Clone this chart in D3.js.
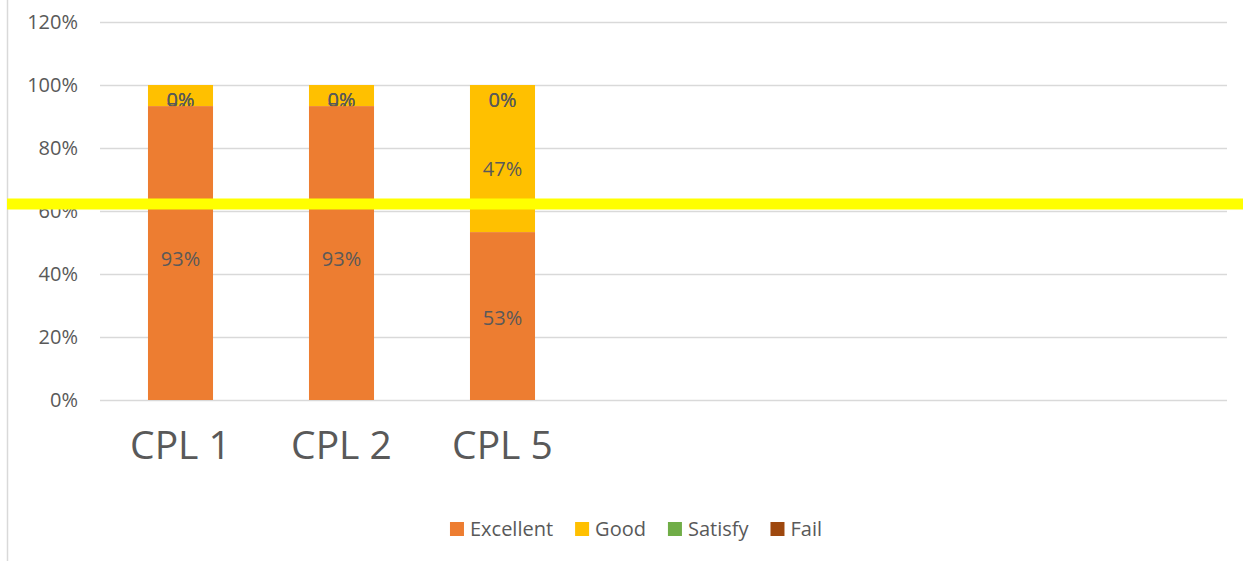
<!DOCTYPE html>
<html>
<head>
<meta charset="utf-8">
<script src="https://cdn.jsdelivr.net/npm/d3@7"></script>
<style>
  body { margin: 0; background: #fff; }
  text { font-family: 'Open Sans', sans-serif; fill: #595959; }
</style>
</head>
<body>
<div id="canvas"></div>
<script>
// chart data
const categories = ['CPL 1', 'CPL 2', 'CPL 5', '', '', '', ''];
const seriesNames = ['Excellent', 'Good', 'Satisfy', 'Fail'];
const seriesColors = ['#ED7D31', '#FFC000', '#70AD47', '#9E480E'];
const excellent = [0.933, 0.933, 0.533];
const good = [0.067, 0.067, 0.467];
const satisfy = [0, 0, 0];
const fail = [0, 0, 0];
const yTicks = [0, 0.2, 0.4, 0.6, 0.8, 1.0, 1.2];
const threshold = 0.622;

const w = 1243;
const h = 561;
const plotLeft = 100, plotRight = 1227, plotTop = 22, plotBottom = 400;

const svg = d3.select('#canvas')
  .append('svg')
  .attr('width', w)
  .attr('height', h);

const xScale = d3.scaleBand()
  .domain(categories.map((c, i) => i))
  .range([plotLeft, plotRight])
  .paddingInner(0.596)
  .paddingOuter(0.298);

const yScale = d3.scaleLinear()
  .domain([0, 1.2])
  .range([plotBottom, plotTop]);

// the data labels in the picture sit on a slightly squeezed scale
const yLabel = d3.scaleLinear()
  .domain([0, 1.2])
  .range([398, 40]);

// chart area left border
svg.append('line')
  .attr('x1', 7.5).attr('x2', 7.5)
  .attr('y1', 0).attr('y2', h)
  .attr('stroke', '#d9d9d9')
  .attr('stroke-width', 1.5);

// gridlines + y labels
const yAxis = d3.axisLeft(yScale)
  .tickValues(yTicks)
  .tickSize(-(plotRight - plotLeft))
  .tickPadding(22)
  .tickFormat(d3.format('.0%'));

const gy = svg.append('g')
  .attr('transform', 'translate(' + plotLeft + ', 0)')
  .call(yAxis);
gy.select('.domain').remove();
gy.selectAll('.tick line').attr('stroke', '#d9d9d9').attr('stroke-width', 1.5);
gy.selectAll('.tick text')
  .style('font-size', '20px')
  .style('font-family', "'Open Sans', sans-serif")
  .attr('fill', '#595959');

// stacked data
const rows = excellent.map((v, i) => ({
  Excellent: v, Good: good[i], Satisfy: satisfy[i], Fail: fail[i], idx: i
}));
const stacked = d3.stack().keys(seriesNames)(rows);

function drawBars(layer) {
  const color = seriesColors[seriesNames.indexOf(layer.key)];
  svg.append('g').selectAll('rect')
    .data(layer)
    .enter()
    .append('rect')
    .attr('x', d => xScale(d.data.idx))
    .attr('width', xScale.bandwidth())
    .attr('y', d => yScale(d[1]))
    .attr('height', d => yScale(d[0]) - yScale(d[1]))
    .attr('fill', color);
}

function drawLabels(layer) {
  svg.append('g').selectAll('text')
    .data(layer)
    .enter()
    .append('text')
    .attr('x', d => xScale(d.data.idx) + xScale.bandwidth() / 2)
    .attr('y', d => yLabel((d[0] + d[1]) / 2))
    .attr('dy', '0.35em')
    .attr('text-anchor', 'middle')
    .style('font-size', '20px')
    .text(d => d3.format('.0%')(d[1] - d[0]));
}

// upper segments + their labels, then Excellent on top (it hides part of the small labels)
const upper = stacked.slice(1).reverse();
upper.forEach(drawBars);
upper.forEach(drawLabels);
drawBars(stacked[0]);
drawLabels(stacked[0]);

// yellow highlight line
svg.append('line')
  .attr('x1', 7).attr('x2', w)
  .attr('y1', yScale(threshold)).attr('y2', yScale(threshold))
  .attr('stroke', '#FFFF00')
  .attr('stroke-width', 11);

// category axis
const xAxis = d3.axisBottom(xScale)
  .tickSize(0)
  .tickFormat(i => categories[i]);

const gx = svg.append('g')
  .attr('transform', 'translate(0, ' + plotBottom + ')')
  .call(xAxis);
gx.select('.domain').remove();
gx.selectAll('.tick text')
  .attr('y', 59)
  .attr('dy', 0)
  .style('font-size', '39px')
  .style('font-family', "'Open Sans', sans-serif")
  .attr('fill', '#595959');

// legend
const legend = svg.append('g');
const items = legend.selectAll('g')
  .data(seriesNames)
  .enter()
  .append('g');
items.append('rect')
  .attr('width', 14)
  .attr('height', 14)
  .attr('y', 522)
  .attr('fill', (d, i) => seriesColors[i]);
items.append('text')
  .attr('x', 20)
  .attr('y', 536)
  .style('font-size', '20px')
  .text(d => d);

let widths = [];
items.each(function() {
  widths.push(20 + this.querySelector('text').getComputedTextLength());
});
const gap = 22;
const total = d3.sum(widths) + gap * (widths.length - 1);
let xpos = 636 - total / 2;
items.attr('transform', function(d, i) {
  const t = 'translate(' + xpos + ', 0)';
  xpos += widths[i] + gap;
  return t;
});
</script>
</body>
</html>
